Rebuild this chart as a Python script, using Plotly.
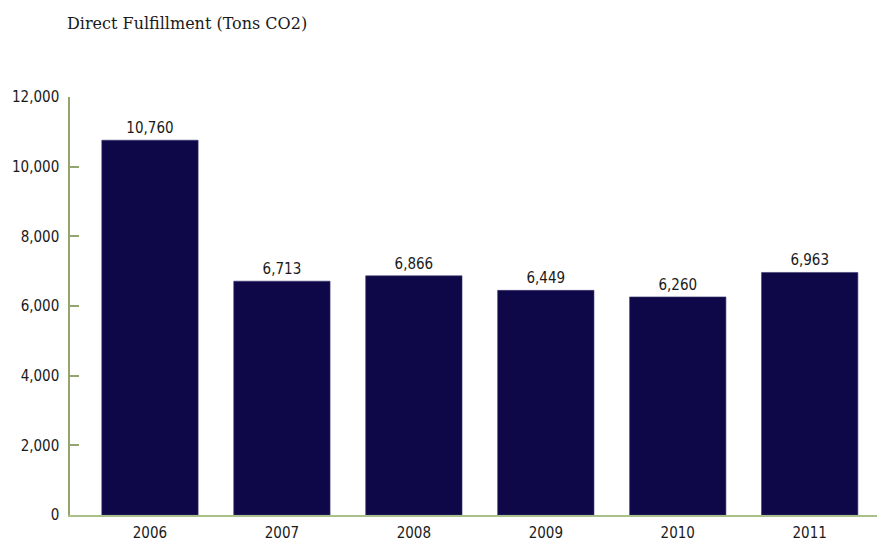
import plotly.graph_objects as go

years = ["2006", "2007", "2008", "2009", "2010", "2011"]
tons_co2 = [10760, 6713, 6866, 6449, 6260, 6963]
y_ticks = [0, 2000, 4000, 6000, 8000, 10000, 12000]
y_tick_text = ["0", "2,000", "4,000", "6,000", "8,000", "10,000", "12,000"]

bar_color = "#0f0848"
axis_color = "#93a46e"
text_color = "#1a1a1a"
label_font = "DejaVu Sans Condensed, Liberation Sans Narrow, Arial Narrow, sans-serif"

fig = go.Figure(
    go.Bar(
        x=list(range(len(years))),
        y=tons_co2,
        marker=dict(color=bar_color, line=dict(color="#3a3570", width=0.6)),
        text=[f"{v:,}" for v in tons_co2],
        textposition="outside",
        cliponaxis=False,
        constraintext="none",
        textfont=dict(family=label_font, size=15, color=text_color),
    )
)

fig.update_layout(
    width=877,
    height=542,
    margin=dict(l=70, r=0, t=97, b=27),
    paper_bgcolor="white",
    plot_bgcolor="white",
    bargap=0.27,
    showlegend=False,
    title=dict(
        text="Direct Fulfillment (Tons CO2)",
        x=67 / 877,
        xanchor="left",
        y=1 - 23 / 542,
        yanchor="middle",
        font=dict(family="DejaVu Serif, Liberation Serif, serif", size=16, color=text_color),
    ),
    font=dict(family=label_font, size=15, color=text_color),
)

fig.update_xaxes(
    range=[-0.606, 5.51],
    tickmode="array",
    tickvals=list(range(len(years))),
    ticktext=years,
    showline=True,
    linecolor="#a9c08a",
    linewidth=1.5,
    ticks="",
    showgrid=False,
    zeroline=False,
    ticklabelstandoff=3,
    tickfont=dict(family=label_font, size=15, color=text_color),
    fixedrange=True,
)

fig.update_yaxes(
    range=[0, 12000],
    tickmode="array",
    tickvals=y_ticks,
    ticktext=y_tick_text,
    showline=True,
    linecolor=axis_color,
    linewidth=1.5,
    ticks="inside",
    ticklen=9,
    tickwidth=1.5,
    tickcolor=axis_color,
    showgrid=False,
    zeroline=False,
    ticklabelstandoff=6,
    tickfont=dict(family=label_font, size=15, color=text_color),
    fixedrange=True,
)

fig.write_html("out.html")
